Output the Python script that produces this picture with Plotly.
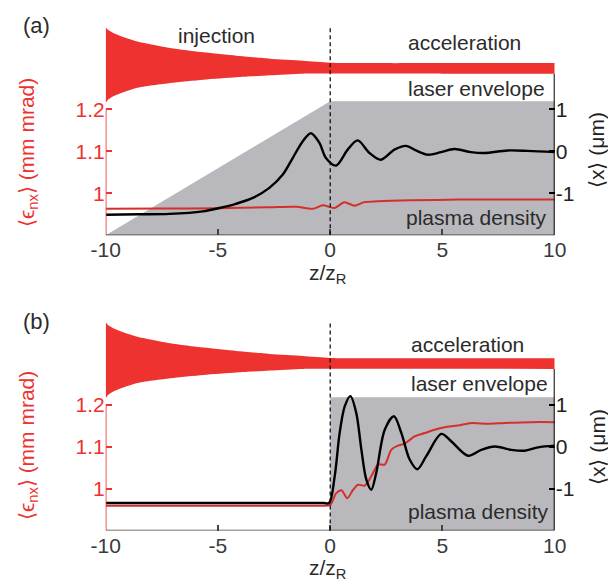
import plotly.graph_objects as go

# ---------------- data ----------------
# red "acceleration" band (upper / lower edges, left-axis units)
band_z = [-10, -9.9, -9.66, -8.64, -7.13, -5.65, -4.18, -2.7, -1.22, 0, 2, 5, 10]
band_upper = [1.395, 1.3895, 1.3817, 1.3619, 1.346, 1.3357, 1.3276, 1.3205, 1.3157, 1.311, 1.310, 1.310, 1.310]
band_lower = [1.215, 1.2229, 1.231, 1.2507, 1.2626, 1.2705, 1.2762, 1.281, 1.2848, 1.2852, 1.2850, 1.2849, 1.2848]

# plasma density profiles (gray), left-axis units
dens_z_a = [-10, 0, 10]
dens_a = [0.9, 1.219, 1.219]
dens_z_b = [0, 0, 10]
dens_b = [0.9, 1.217, 1.217]

# panel (a): emittance (mm mrad) and centroid <x> (um)
emit_z_a = [-10, -7.5, -5, -2.71, -1.52, -0.78, -0.33, 0.19, 0.63, 1.08, 1.52, 2.12, 3.6, 5.8, 7.3, 10]
emit_a = [0.9633, 0.9636, 0.9645, 0.9667, 0.968, 0.963, 0.9714, 0.965, 0.9786, 0.9705, 0.979, 0.981,
          0.9833, 0.985, 0.985, 0.985]
cent_z_a = [-10, -8.5, -7.16, -5.68, -4.94, -4.2, -3.45, -2.71, -2.12, -1.67, -1.22, -0.86, -0.48, -0.19,
            0.26, 0.78, 1.22, 1.75, 2.26, 2.86, 3.38, 3.82, 4.34, 4.94, 5.53, 6.27, 6.87, 7.9, 8.8, 10]
cent_a = [-1.51, -1.5, -1.49, -1.43, -1.35, -1.25, -1.11, -0.87, -0.56, -0.16, 0.24, 0.43, 0.2, -0.16,
          -0.34, 0.04, 0.26, -0.04, -0.2, 0.04, 0.13, 0.02, -0.08, -0.02, 0.055, -0.02, -0.04, 0.02, 0.01, -0.02]

# panel (b)
emit_z_b = [-10, -7.5, -5, -2.5, -1, -0.3, 0, 0.27, 0.5, 0.76, 1.02, 1.24, 1.54, 1.83, 2.13, 2.43, 2.72,
            3.02, 3.32, 3.76, 4.21, 4.65, 5.1, 5.69, 6.29, 7.03, 7.78, 8.96, 10]
emit_b = [0.959, 0.959, 0.959, 0.959, 0.959, 0.959, 0.961, 0.989, 0.996, 0.977, 0.997, 1.009, 1.007, 1.029,
          1.057, 1.057, 1.092, 1.102, 1.107, 1.124, 1.132, 1.14, 1.146, 1.15, 1.156, 1.154, 1.156, 1.158, 1.158]
cent_z_b = [-10, -7.5, -5, -2.5, -1, -0.3, -0.05, 0.2, 0.42, 0.65, 0.9, 1.16, 1.39, 1.61, 1.83, 2.05, 2.43,
            2.84, 3.17, 3.54, 3.88, 4.28, 4.95, 5.4, 6.14, 6.73, 7.33, 8.07, 8.66, 9.26, 10]
cent_b = [-1.345, -1.345, -1.345, -1.345, -1.345, -1.345, -1.345, -0.71, 0.32, 0.96, 1.2, 0.8, -0.08, -0.79,
          -1.03, -0.63, 0.4, 0.72, 0.32, -0.31, -0.54, -0.23, 0.3, 0.12, -0.22, -0.08, 0.0, -0.08, -0.1,
          -0.02, 0.02]

x_ticks = [-10, -5, 0, 5, 10]
x_ticktext = ["-10", "-5", "0", "5", "10"]
left_ticks = [1.0, 1.1, 1.2]
left_ticktext = ["1", "1.1", "1.2"]
right_ticks = [-1, 0, 1]
right_ticktext = ["-1", "0", "1"]

# ---------------- styling ----------------
RED = "#ee3230"
LINE_RED = "#d42f2b"
GRAY = "#b9b9bd"
TXT = "#2b2b2b"
FONT = "Liberation Sans, Arial, Helvetica, sans-serif"
FS = 21
W, H = 616, 580

L_RANGE = [0.9, 0.9 + 215 / 420]
R_RANGE = [(L_RANGE[0] - 1.1) * 10, (L_RANGE[1] - 1.1) * 10]

def py(px):
    return 1 - px / H

def pxx(px):
    return px / W

fig = go.Figure()

panels = [
    dict(x="x", y="y", y2="y2", dz=dens_z_a, d=dens_a, ez=emit_z_a, e=emit_a, cz=cent_z_a, c=cent_a),
    dict(x="x2", y="y3", y2="y4", dz=dens_z_b, d=dens_b, ez=emit_z_b, e=emit_b, cz=cent_z_b, c=cent_b),
]

for p in panels:
    fig.add_trace(go.Scatter(x=p["dz"], y=p["d"], xaxis=p["x"], yaxis=p["y"], mode="lines",
                             line=dict(width=0, color=GRAY), fill="tozeroy", fillcolor=GRAY,
                             hoverinfo="skip", showlegend=False))
    fig.add_trace(go.Scatter(x=band_z, y=band_lower, xaxis=p["x"], yaxis=p["y"], mode="lines",
                             line=dict(width=0, color=RED, shape="spline", smoothing=0.6),
                             hoverinfo="skip", showlegend=False))
    fig.add_trace(go.Scatter(x=band_z, y=band_upper, xaxis=p["x"], yaxis=p["y"], mode="lines",
                             line=dict(width=0, color=RED, shape="spline", smoothing=0.6),
                             fill="tonexty", fillcolor=RED, hoverinfo="skip", showlegend=False))
    fig.add_trace(go.Scatter(x=p["ez"], y=p["e"], xaxis=p["x"], yaxis=p["y"], mode="lines",
                             line=dict(width=2, color=LINE_RED, shape="spline", smoothing=0.8),
                             showlegend=False))
    fig.add_trace(go.Scatter(x=p["cz"], y=p["c"], xaxis=p["x"], yaxis=p["y2"], mode="lines",
                             line=dict(width=2.4, color="black", shape="spline", smoothing=0.9),
                             showlegend=False))

xdom = [pxx(97.7), pxx(546.7)]
dom_a = [py(227.3), py(227.3 - 215)]
dom_b = [py(522.5), py(522.5 - 215)]

def xaxis_cfg(anchor):
    return dict(domain=xdom, range=[-10, 10], anchor=anchor, showgrid=False, zeroline=False,
                showline=False, ticks="inside", ticklen=6, tickwidth=1.5, tickcolor="#444",
                tickvals=x_ticks, ticktext=x_ticktext, tickfont=dict(family=FONT, size=FS, color="#3a3a3a"),
                automargin=False, fixedrange=True)

def yleft_cfg(dom, anchor):
    return dict(domain=dom, range=L_RANGE, anchor=anchor, showgrid=False, zeroline=False, showline=False,
                ticks="inside", ticklen=6, tickwidth=1.5, tickcolor=RED, tickvals=left_ticks,
                ticktext=left_ticktext, tickfont=dict(family=FONT, size=FS, color=RED),
                automargin=False, fixedrange=True)

def yright_cfg(over, anchor):
    return dict(overlaying=over, side="right", range=R_RANGE, anchor=anchor, showgrid=False, zeroline=False,
                showline=False, ticks="inside", ticklen=6, tickwidth=1.5, tickcolor="black",
                tickvals=right_ticks, ticktext=right_ticktext,
                tickfont=dict(family=FONT, size=FS, color="#222"), automargin=False, fixedrange=True)

shapes = []
for xr, yr in [("x", "y"), ("x2", "y3")]:
    # dashed boundary at z = 0
    shapes.append(dict(type="line", xref=xr, yref=yr, x0=0, x1=0, y0=0.9, y1=1.3936,
                       line=dict(color="black", width=1.2, dash="4px,3px"), layer="above"))
    # left (red) axis
    shapes.append(dict(type="line", xref=xr, yref=yr, x0=-10, x1=-10, y0=0.9, y1=1.2,
                       line=dict(color=RED, width=1.6), layer="above"))
    # right (black) axis
    shapes.append(dict(type="line", xref=xr, yref=yr, x0=10, x1=10, y0=0.9, y1=1.2848,
                       line=dict(color="black", width=2), layer="above"))
    # bottom axis
    shapes.append(dict(type="line", xref=xr, yref=yr, x0=-10, x1=10, y0=0.9, y1=0.9,
                       line=dict(color="#444", width=1.6), layer="above"))

def ann(text, x, y, size=FS, color=TXT, angle=0, xanchor="center"):
    return dict(text=text, x=pxx(x), y=py(y), xref="paper", yref="paper", showarrow=False,
                xanchor=xanchor, yanchor="middle", textangle=angle,
                font=dict(family=FONT, size=size, color=color))

annotations = [
    ann("(a)", 28, 18, size=22),
    ann("(b)", 28, 313, size=22),
    ann("injection", 208, 27),
    ann("acceleration", 456, 35),
    ann("laser envelope", 468, 80),
    ann("plasma density", 468, 210),
    ann("acceleration", 459, 336),
    ann("laser envelope", 471, 375),
    ann("plasma density", 470, 503),
    ann("z/z<sub>R</sub>", 320, 266),
    ann("z/z<sub>R</sub>", 320, 561),
    ann("⟨ϵ<sub>nx</sub>⟩ (mm mrad)", 20, 145, color=RED, angle=-90),
    ann("⟨ϵ<sub>nx</sub>⟩ (mm mrad)", 20, 438, color=RED, angle=-90),
    ann("⟨x⟩ (μm)", 589, 142, color="#222", angle=-90),
    ann("⟨x⟩ (μm)", 589, 439, color="#222", angle=-90),
]

fig.update_layout(
    width=W, height=H, autosize=False, template="none",
    margin=dict(l=0, r=0, t=0, b=0),
    paper_bgcolor="white", plot_bgcolor="rgba(0,0,0,0)",
    showlegend=False,
    xaxis=xaxis_cfg("y"),
    xaxis2=xaxis_cfg("y3"),
    yaxis=yleft_cfg(dom_a, "x"),
    yaxis2=yright_cfg("y", "x"),
    yaxis3=yleft_cfg(dom_b, "x2"),
    yaxis4=yright_cfg("y3", "x2"),
    shapes=shapes,
    annotations=annotations,
)

fig.write_html("out.html")
